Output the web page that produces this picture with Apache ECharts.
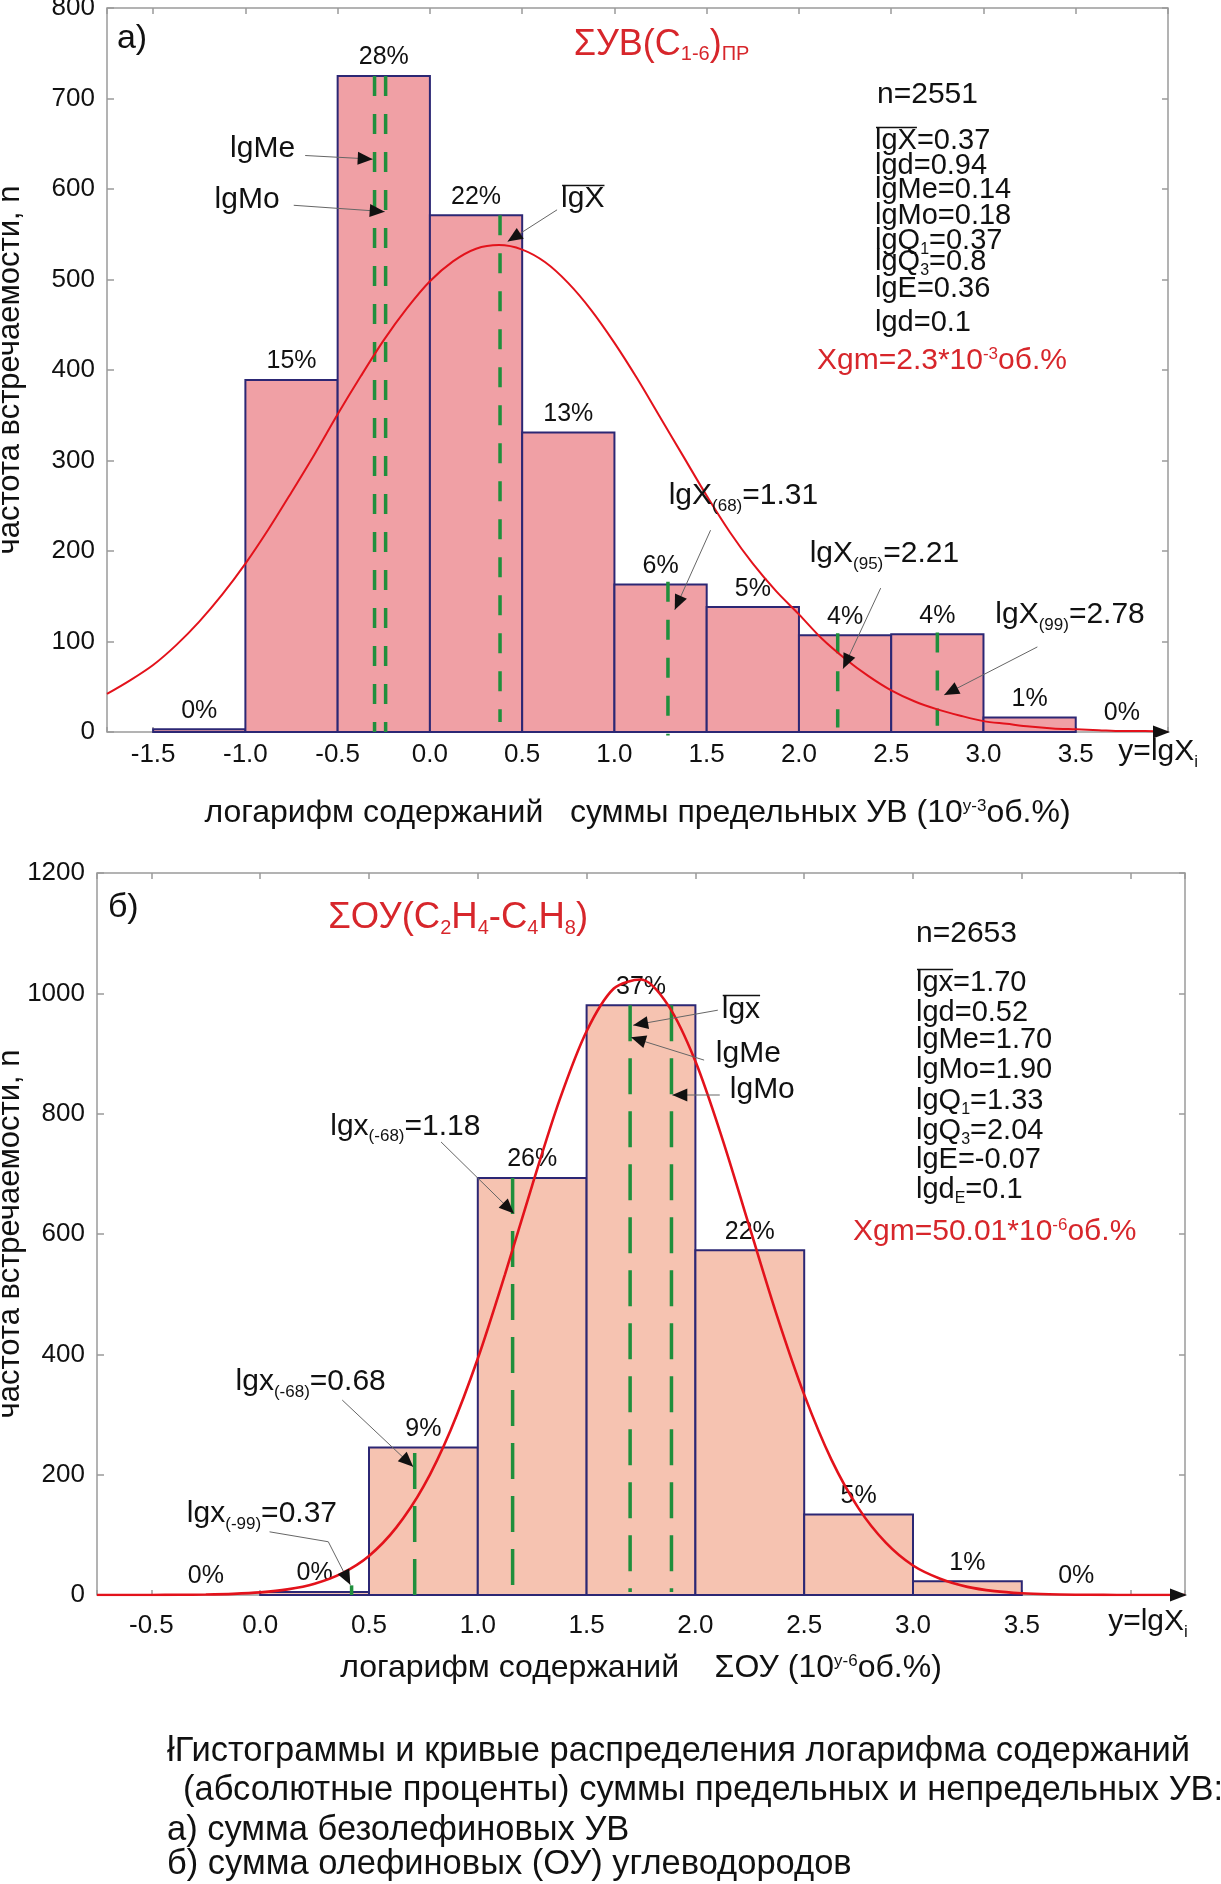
<!DOCTYPE html>
<html>
<head>
<meta charset="utf-8">
<script src="https://cdn.jsdelivr.net/npm/echarts@6.0.0/dist/echarts.min.js"></script>
<style>
html,body{margin:0;padding:0;background:#ffffff;}
#chart{width:1221px;height:1884px;}
</style>
</head>
<body>
<div id="chart"></div>
<script>
// ===== Panel a): ΣУВ(C1-6)ПР =====
const binStartA = [-1.5, -1.0, -0.5, 0.0, 0.5, 1.0, 1.5, 2.0, 2.5, 3.0, 3.5];
const countA = [3, 389, 725, 571, 331, 163, 138, 107, 108, 16, 0];
const pctA = ['0%', '15%', '28%', '22%', '13%', '6%', '5%', '4%', '4%', '1%', '0%'];
const curveXA = [-1.75, -1.625, -1.5, -1.375, -1.25, -1.125, -1.0, -0.875, -0.75, -0.625, -0.5, -0.375, -0.25, -0.125,
  0.0, 0.125, 0.25, 0.375, 0.5, 0.625, 0.75, 0.875, 1.0, 1.125, 1.25, 1.375, 1.5, 1.625, 1.75, 1.875,
  2.0, 2.125, 2.25, 2.375, 2.5, 2.625, 2.75, 2.875, 3.0, 3.125, 3.25, 3.375, 3.5, 3.625, 3.75, 3.875, 4.0];
const curveYA = [42, 57, 74, 96, 122, 152, 186, 224, 265, 307, 351, 393, 433, 468,
  498, 520, 534, 538, 533, 519, 496, 466, 430, 390, 347, 304, 261, 221, 186, 156,
  130, 103, 81, 62, 46, 34, 25, 18, 12, 9, 6, 4, 3, 2, 1, 1, 0];
const markXA = [-0.30, -0.24, 0.38, 1.29, 2.21, 2.75];
const markTopA = [725, 725, 571, 166, 109, 110];
const markBottomA = [0, 0, 11, -4, 5, 7];
const statsA = ['n=2551', 'lgX=0.37', 'lgd=0.94', 'lgMe=0.14', 'lgMo=0.18', 'lgQ{s|1}=0.37', 'lgQ{s|3}=0.8', 'lgE=0.36', 'lgd=0.1'];
const xgmA = 'Xgm=2.3*10{p|-3}об.%';

// ===== Panel б): ΣОУ(C2H4-C4H8) =====
const binStartB = [-0.5, 0.0, 0.5, 1.0, 1.5, 2.0, 2.5, 3.0, 3.5];
const countB = [0, 5, 245, 693, 980, 573, 134, 23, 0];
const pctB = ['0%', '0%', '9%', '26%', '37%', '22%', '5%', '1%', '0%'];
const curveXB = [-0.75, -0.625, -0.5, -0.375, -0.25, -0.125, 0.0, 0.125, 0.25, 0.375, 0.5, 0.625, 0.75, 0.875,
  1.0, 1.125, 1.25, 1.375, 1.5, 1.625, 1.75, 1.875, 2.0, 2.125, 2.25, 2.375, 2.5, 2.625, 2.75, 2.875,
  3.0, 3.125, 3.25, 3.375, 3.5, 3.625, 3.75, 3.875, 4.0, 4.125, 4.25];
const curveYB = [0, 0, 0.1, 0.3, 0.8, 1.9, 4.3, 9.3, 18.8, 36, 65, 112, 180, 274,
  393, 533, 681, 822, 937, 1008, 1023, 980, 887, 757, 610, 464, 333, 225, 144, 87,
  49, 27, 13.5, 6.5, 2.9, 1.2, 0.5, 0.2, 0, 0, 0];
const markXB = [0.42, 0.71, 1.16, 1.70, 1.89];
const markTopB = [16, 236, 693, 980, 980];
const markBottomB = [0, 0, 5, 5, 5];
const statsB = ['n=2653', 'lgx=1.70', 'lgd=0.52', 'lgMe=1.70', 'lgMo=1.90', 'lgQ{s|1}=1.33', 'lgQ{s|3}=2.04', 'lgE=-0.07', 'lgd{s|E}=0.1'];
const xgmB = 'Xgm=50.01*10{p|-6}об.%';

const captionLines = [
  'łГистограммы и кривые распределения логарифма содержаний',
  '(абсолютные проценты) суммы предельных и непредельных УВ:',
  'а) сумма безолефиновых УВ',
  'б) сумма олефиновых (ОУ) углеводородов'
];

const BIN = 0.5;
const FF = '"Liberation Sans", Arial, Helvetica, sans-serif';
const RED = '#d7262b';
const CURVE = '#e3121b';
const GREEN = '#1f8f3c';
const NAVY = '#2c2774';
const FRAME = '#9a9a9a';

function tickFmt(lo, hi) {
  return function (v) {
    const r = Math.round(v * 2) / 2;
    if (Math.abs(v - r) > 1e-6 || v < lo - 1e-6 || v > hi + 1e-6) return '';
    return v.toFixed(1);
  };
}

function barSeries(ax, starts, counts, pcts, fill) {
  return {
    type: 'custom', xAxisIndex: ax, yAxisIndex: ax, z: 2, silent: true,
    data: starts.map((s, i) => [s + BIN / 2, counts[i]]),
    renderItem: function (params, api) {
      const i = params.dataIndex;
      const x0 = starts[i], x1 = x0 + BIN, v = counts[i];
      const p0 = api.coord([x0, v]);
      const p1 = api.coord([x1, 0]);
      const children = [];
      if (v > 0) {
        children.push({
          type: 'rect',
          shape: { x: p0[0], y: p0[1], width: p1[0] - p0[0], height: p1[1] - p0[1] },
          style: { fill: fill, stroke: NAVY, lineWidth: 2 }
        });
      }
      const c = api.coord([(x0 + x1) / 2, v]);
      children.push({
        type: 'text',
        style: {
          text: pcts[i], x: c[0], y: c[1] - 6,
          align: 'center', verticalAlign: 'bottom',
          fontSize: 25, fontFamily: FF, fill: '#111'
        }
      });
      return { type: 'group', children: children };
    }
  };
}

function markSeries(ax, xs, tops, bottoms, dash) {
  return {
    type: 'custom', xAxisIndex: ax, yAxisIndex: ax, z: 3, silent: true,
    data: xs.map((x, i) => [x, tops[i]]),
    renderItem: function (params, api) {
      const i = params.dataIndex;
      const a = api.coord([xs[i], tops[i]]);
      const b = api.coord([xs[i], bottoms[i]]);
      return {
        type: 'line',
        shape: { x1: a[0], y1: a[1], x2: b[0], y2: b[1] },
        style: { stroke: GREEN, lineWidth: 3.5, lineDash: dash }
      };
    }
  };
}

function curveSeries(ax, xs, ys, w) {
  return {
    type: 'line', xAxisIndex: ax, yAxisIndex: ax, z: 4, silent: true,
    data: xs.map((x, i) => [x, ys[i]]),
    smooth: 0.3, showSymbol: false, symbol: 'none',
    lineStyle: { color: CURVE, width: w }
  };
}

const nameRich = {
  p: { fontSize: 17, fontFamily: FF, color: '#111', padding: [0, 0, 14, 0] }
};

function mainX(grid, min, max, split, lo, hi, name, gap, margin) {
  return {
    gridIndex: grid, type: 'value', min: min, max: max, splitNumber: split, position: 'bottom',
    axisLine: { show: false, onZero: false },
    axisTick: { show: true, inside: true, length: 5, lineStyle: { color: FRAME, width: 1.5 } },
    axisLabel: { formatter: tickFmt(lo, hi), fontSize: 26, color: '#111', fontFamily: FF, margin: margin, showMinLabel: true, showMaxLabel: true },
    splitLine: { show: false },
    name: name, nameLocation: 'middle', nameGap: gap, nameMoveOverlap: false,
    nameTextStyle: { fontSize: 32, color: '#111', fontFamily: FF, rich: nameRich }
  };
}
function topX(grid, min, max, split) {
  return {
    gridIndex: grid, type: 'value', min: min, max: max, splitNumber: split, position: 'top',
    axisLine: { show: false, onZero: false },
    axisTick: { show: true, inside: true, length: 6, lineStyle: { color: FRAME, width: 1.5 } },
    axisLabel: { show: false }, splitLine: { show: false }
  };
}
function leftY(grid, max, interval, gap) {
  return {
    gridIndex: grid, type: 'value', min: 0, max: max, interval: interval, position: 'left',
    axisLine: { show: false, onZero: false },
    axisTick: { show: true, inside: true, length: 7, lineStyle: { color: FRAME, width: 1.5 } },
    axisLabel: { fontSize: 26, color: '#111', fontFamily: FF, margin: 12, formatter: function (v) { return String(v); } },
    splitLine: { show: false },
    name: 'частота встречаемости, n', nameLocation: 'middle', nameRotate: 90, nameGap: gap, nameMoveOverlap: false,
    nameTextStyle: { fontSize: 31, color: '#111', fontFamily: FF }
  };
}
function rightY(grid, max, interval) {
  return {
    gridIndex: grid, type: 'value', min: 0, max: max, interval: interval, position: 'right',
    axisLine: { show: false, onZero: false },
    axisTick: { show: true, inside: true, length: 6, lineStyle: { color: FRAME, width: 1.5 } },
    axisLabel: { show: false }, splitLine: { show: false }
  };
}

const option = {
  animation: false,
  backgroundColor: '#ffffff',
  textStyle: { fontFamily: FF },
  grid: [
    { left: 107, right: 53, top: 8, height: 724, show: true, borderColor: FRAME, borderWidth: 1.5, backgroundColor: 'transparent', containLabel: false, outerBoundsMode: 'none' },
    { left: 97, right: 36, top: 873, height: 722, show: true, borderColor: FRAME, borderWidth: 1.5, backgroundColor: 'transparent', containLabel: false, outerBoundsMode: 'none' }
  ],
  xAxis: [
    mainX(0, -1.75, 4.0, 11, -1.5, 3.5, 'логарифм содержаний   суммы предельных УВ (10{p|y-3}об.%)', 65, 10),
    mainX(1, -0.75, 4.25, 10, -0.5, 3.5, 'логарифм содержаний    ΣОУ (10{p|y-6}об.%)', 57, 18),
    topX(0, -1.75, 4.0, 11),
    topX(1, -0.75, 4.25, 10)
  ],
  yAxis: [
    leftY(0, 800, 100, 81),
    leftY(1, 1200, 200, 71),
    rightY(0, 800, 100),
    rightY(1, 1200, 200)
  ],
  series: [
    barSeries(0, binStartA, countA, pctA, '#f0a0a5'),
    markSeries(0, markXA, markTopA, markBottomA, [20, 18]),
    curveSeries(0, curveXA, curveYA, 2),
    barSeries(1, binStartB, countB, pctB, '#f6c3b1'),
    markSeries(1, markXB, markTopB, markBottomB, [36, 17]),
    curveSeries(1, curveXB, curveYB, 2.6)
  ]
};

const chart = echarts.init(document.getElementById('chart'), null, { renderer: 'canvas' });
chart.setOption(option);

// ===== annotations =====
const labelsA = [
  { t: 'a)', x: -1.696, y: 766, fs: 34 },
  { t: 'ΣУВ(C{s|1-6}){s|ПР}', x: 0.779, y: 759, fs: 36, c: RED, sub: 0.5 },
  { t: 'lgMe', x: -1.083, y: 644 },
  { t: 'lgMo', x: -1.167, y: 588 },
  { t: 'lgX', x: 0.711, y: 589, over: 'lgX' },
  { t: 'lgX{s|(68)}=1.31', x: 1.294, y: 261 },
  { t: 'lgX{s|(95)}=2.21', x: 2.058, y: 197 },
  { t: 'lgX{s|(99)}=2.78', x: 3.064, y: 130 },
  { t: 'y=lgX{s|i}', x: 3.731, y: -22 }
];
const arrowsA = [
  [[-0.676, 637], [-0.31, 633]],
  [[-0.738, 582], [-0.245, 575]],
  [[0.689, 577], [0.421, 542]],
  [[1.521, 223], [1.327, 135]],
  [[2.443, 159], [2.239, 70]],
  [[3.292, 94], [2.787, 41]]
];
const labelsB = [
  { t: 'б)', x: -0.70, y: 1143, fs: 34 },
  { t: 'ΣОУ(C{s|2}H{s|4}-C{s|4}H{s|8})', x: 0.313, y: 1125, fs: 36.5, c: RED, sub: 0.55 },
  { t: 'lgx', x: 2.121, y: 973, over: 'lgx' },
  { t: 'lgMe', x: 2.094, y: 900 },
  { t: 'lgMo', x: 2.158, y: 839 },
  { t: 'lgx{s|(-68)}=1.18', x: 0.322, y: 779 },
  { t: 'lgx{s|(-68)}=0.68', x: -0.113, y: 354 },
  { t: 'lgx{s|(-99)}=0.37', x: -0.337, y: 134.5 },
  { t: 'y=lgX{s|i}', x: 3.897, y: -45 }
];
const arrowsB = [
  [[2.103, 972], [1.714, 947]],
  [[2.04, 889], [1.704, 927]],
  [[2.112, 831], [1.894, 831]],
  [[0.831, 753], [1.166, 634]],
  [[0.377, 324], [0.703, 213]],
  [[0.043, 105], [0.313, 88.5], [0.414, 17]]
];

const mctx = document.createElement('canvas').getContext('2d');
function tw(s, fs) { mctx.font = fs + 'px ' + FF; return mctx.measureText(s).width; }

function richFor(fs, color, subK) {
  const sfs = Math.round(fs * 0.55);
  return {
    s: { fontSize: sfs, fontFamily: FF, fill: color, padding: [Math.round(fs * (subK == null ? 0.7 : subK)), 0, 0, 0] },
    p: { fontSize: sfs, fontFamily: FF, fill: color, padding: [0, 0, Math.round(fs * 0.42), 0] }
  };
}

const els = [];
function addText(px, py, text, fs, color, over, subK) {
  els.push({
    type: 'text', x: px, y: py, z: 100, silent: true,
    style: { text: text, rich: richFor(fs, color, subK), fontSize: fs, fontFamily: FF, fill: color, align: 'left', verticalAlign: 'middle' }
  });
  if (over) {
    const w = tw(over, fs);
    const oy = Math.round(py - 0.48 * fs) + 0.5;
    els.push({ type: 'line', z: 100, silent: true, shape: { x1: px + 1, y1: oy, x2: px + w, y2: oy }, style: { stroke: color, lineWidth: 1.5 } });
  }
}
function addArrow(pts) {
  els.push({ type: 'polyline', z: 99, silent: true, shape: { points: pts }, style: { stroke: '#666', lineWidth: 1, fill: null } });
  const n = pts.length;
  const tx = pts[n - 1][0], ty = pts[n - 1][1], sx = pts[n - 2][0], sy = pts[n - 2][1];
  const dx = tx - sx, dy = ty - sy, L = Math.hypot(dx, dy) || 1;
  const ux = dx / L, uy = dy / L, len = 15, hw = 6.5;
  const bx = tx - ux * len, by = ty - uy * len;
  els.push({ type: 'polygon', z: 100, silent: true, shape: { points: [[tx, ty], [bx - uy * hw, by + ux * hw], [bx + uy * hw, by - ux * hw]] }, style: { fill: '#111' } });
}
function P(ax, x, y) { return chart.convertToPixel({ xAxisIndex: ax, yAxisIndex: ax }, [x, y]); }

[[0, labelsA, arrowsA], [1, labelsB, arrowsB]].forEach(function (set) {
  const ax = set[0];
  set[1].forEach(function (l) {
    const p = P(ax, l.x, l.y);
    addText(p[0], p[1], l.t, l.fs || 30, l.c || '#111', l.over, l.sub);
  });
  set[2].forEach(function (a) { addArrow(a.map(function (q) { return P(ax, q[0], q[1]); })); });
});

// x-axis end arrows
[[0, 4.0], [1, 4.25]].forEach(function (e) {
  const p = P(e[0], e[1], 0);
  const tx = p[0] + 2, ty = p[1];
  els.push({ type: 'polygon', z: 100, silent: true, shape: { points: [[tx, ty], [tx - 17, ty - 6.5], [tx - 17, ty + 6.5]] }, style: { fill: '#111' } });
});

// statistics blocks (layout in pixels)
const statsYA = [94.6, 141.3, 166.3, 189.6, 216.3, 241.3, 262.3, 288.9, 322.9];
statsA.forEach(function (t, i) {
  addText(i === 0 ? 877 : 875, statsYA[i], t, i === 0 ? 30 : 29, '#111', i === 1 ? 'lgX' : null, 0.55);
});
addText(817, 361, xgmA, 30, RED);
const statsYB = [934, 982.6, 1012.6, 1039.6, 1069.6, 1101.3, 1131.3, 1159.6, 1189.6];
statsB.forEach(function (t, i) {
  addText(916, statsYB[i], t, i === 0 ? 30 : 29, '#111', i === 1 ? 'lgx' : null, 0.6);
});
addText(853, 1232, xgmB, 30, RED);

// caption
const capX = [167, 183, 167, 167];
const capY = [1751, 1790, 1830, 1864];
captionLines.forEach(function (t, i) {
  els.push({ type: 'text', x: capX[i], y: capY[i], z: 100, silent: true,
    style: { text: t, fontSize: 34.5, fontFamily: FF, fill: '#111', align: 'left', verticalAlign: 'middle' } });
});

chart.setOption({ graphic: { elements: els } });
</script>
</body>
</html>
